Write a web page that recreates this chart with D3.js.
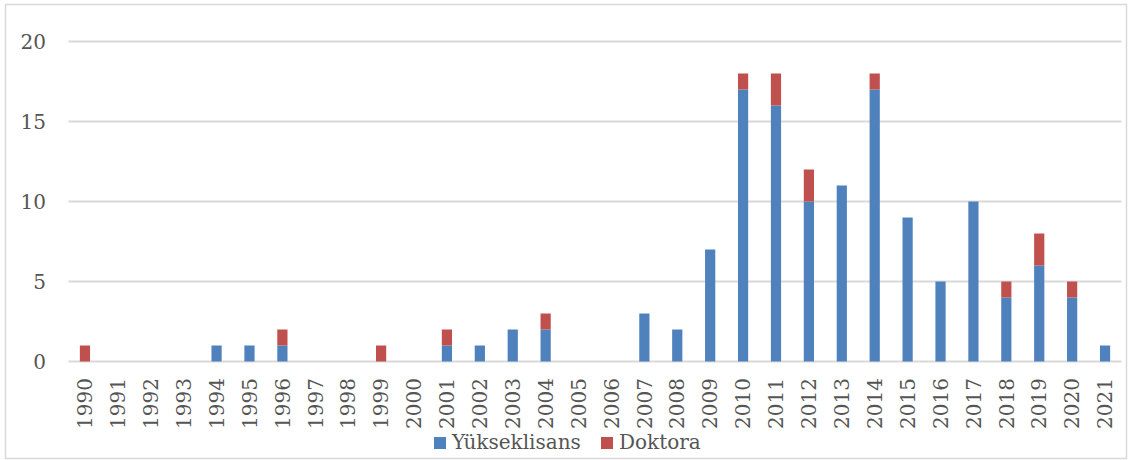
<!DOCTYPE html>
<head>
  <meta charset="utf-8">
  <script src="https://d3js.org/d3.v7.min.js"></script>
  <style>
    body { margin: 0; background: #fff; }
    text { font-family: 'DejaVu Serif', serif; font-size: 20px; fill: #555555; }
  </style>
</head>
<body>
<div id="chart"></div>
<script>

////////////////////////// Data //////////////////////////
const years = d3.range(1990, 2022).map(String);
const yuksekLisans = [0,0,0,0,1,1,1,0,0,0,0,1,1,2,2,0,0,3,2,7,17,16,10,11,17,9,5,10,4,6,4,1];
const doktora      = [1,0,0,0,0,0,1,0,0,1,0,1,0,0,1,0,0,0,0,0,1,2,2,0,1,0,0,0,1,2,1,0];
const yTicks = [0, 5, 10, 15, 20];
const seriesNames = ["Yükseklisans", "Doktora"];
const colors = ["#4f81bd", "#c0504d"];

////////////////////////// Setup //////////////////////////
const W = 1132, H = 460;
const plot = { left: 68.5, right: 1121.5, top: 41.5, bottom: 361.5 };

const svg = d3.select("#chart").append("svg")
    .attr("width", W).attr("height", H);

// outer frame
svg.append("rect")
    .attr("x", 5.5).attr("y", 4.5)
    .attr("width", 1121).attr("height", 454)
    .attr("fill", "none").attr("stroke", "#d9d9d9").attr("stroke-width", 1.5);

const x = d3.scaleBand().domain(years).range([plot.left, plot.right]).paddingInner(0.69).paddingOuter(0.345);
const y = d3.scaleLinear().domain([0, 20]).range([plot.bottom, plot.top]);

// gridlines
svg.append("g").selectAll("line")
    .data(yTicks).enter().append("line")
    .attr("x1", plot.left).attr("x2", plot.right)
    .attr("y1", d => y(d)).attr("y2", d => y(d))
    .attr("stroke", "#d9d9d9").attr("stroke-width", 2);

// y labels
svg.append("g").selectAll("text")
    .data(yTicks).enter().append("text")
    .attr("x", 46).attr("y", d => y(d)).attr("dy", "0.35em")
    .attr("text-anchor", "end")
    .text(d => d);

////////////////////////// Bars //////////////////////////
const table = years.map((yr, i) => ({ year: yr, a: yuksekLisans[i], b: doktora[i] }));
const stack = d3.stack().keys(["a", "b"])(table);

svg.append("g").selectAll("g")
    .data(stack).enter().append("g")
    .attr("fill", (d, i) => colors[i])
    .selectAll("rect")
    .data(d => d).enter().append("rect")
    .attr("x", d => x(d.data.year))
    .attr("width", x.bandwidth())
    .attr("y", d => y(d[1]))
    .attr("height", d => y(d[0]) - y(d[1]));

////////////////////////// X labels //////////////////////////
svg.append("g").selectAll("text")
    .data(years).enter().append("text")
    .attr("transform", d => `translate(${x(d) + x.bandwidth() / 2},378) rotate(-90)`)
    .attr("dy", "0.36em")
    .attr("text-anchor", "end")
    .text(d => d);

////////////////////////// Legend //////////////////////////
const legendX = [434, 601];
const legend = svg.append("g").selectAll("g")
    .data(seriesNames).enter().append("g")
    .attr("transform", (d, i) => `translate(${legendX[i]},437)`);
legend.append("rect").attr("width", 12).attr("height", 12).attr("fill", (d, i) => colors[i]);
legend.append("text").attr("x", 18).attr("y", 12).text(d => d);

</script>
</body>
